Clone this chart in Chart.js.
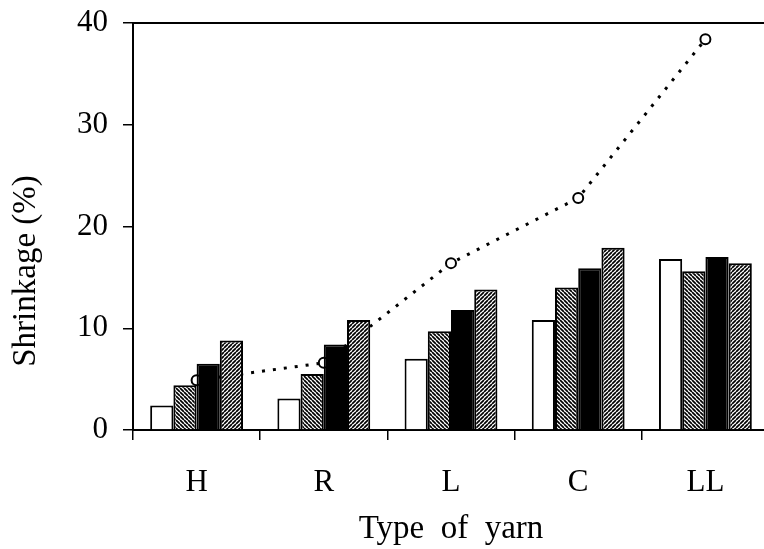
<!DOCTYPE html>
<html>
<head>
<meta charset="utf-8">
<script src="https://cdn.jsdelivr.net/npm/chart.js@4.4.1/dist/chart.umd.min.js"></script>
<style>
  html, body { margin: 0; padding: 0; background: #fff; overflow: hidden; }
  #wrap { width: 776px; height: 549px; }
</style>
</head>
<body>
<div id="wrap"><canvas id="barChart"></canvas></div>
<script>
// yarn types on the x axis
var categorias = ['H', 'R', 'L', 'C', 'LL'];

// bar series (shrinkage %)
var serieBlanca = [2.4, 3.1, 7.0, 10.8, 16.8];
var serieRayaA  = [4.4, 5.5, 9.7, 14.0, 15.6];
var serieNegra  = [6.5, 8.4, 11.8, 15.9, 17.0];
var serieRayaB  = [8.8, 10.8, 13.8, 17.9, 16.4];

// dotted line with open circles
var serieLinea  = [4.9, 6.6, 16.4, 22.8, 38.4];

var yTicks = [0, 10, 20, 30, 40];
var yTitulo = 'Shrinkage (%)';
var xTitulo = 'Type  of  yarn';

var fuente = "'Liberation Serif', 'Times New Roman', serif";

function rayado(dir){
    var s = 4;
    var c = document.createElement('canvas');
    c.width = s; c.height = s;
    var ctx = c.getContext('2d');
    ctx.fillStyle = '#fff';
    ctx.fillRect(0, 0, s, s);
    ctx.strokeStyle = '#000';
    ctx.lineWidth = 1.7;
    ctx.beginPath();
    for (var k = -s; k <= s; k += s) {
        if (dir == '\\') {
            ctx.moveTo(k, 0); ctx.lineTo(k + s, s);
        } else {
            ctx.moveTo(k, s); ctx.lineTo(k + s, 0);
        }
    }
    ctx.stroke();
    return ctx.createPattern(c, 'repeat');
}

// y title sits lower than the axis centre in the original, so draw it by hand
var tituloY = {
    id: 'tituloY',
    afterDraw: function(chart){
        var ctx = chart.ctx;
        ctx.save();
        ctx.translate(26, 271);
        ctx.rotate(-Math.PI / 2);
        ctx.font = '33px ' + fuente;
        ctx.fillStyle = '#000';
        ctx.textAlign = 'center';
        ctx.textBaseline = 'middle';
        ctx.fillText(yTitulo, 0, 0);
        ctx.restore();
    }
};

function grafica(){
    var barra = function(label, datos, relleno){
        return {
            type: 'bar',
            label: label,
            data: datos,
            backgroundColor: relleno,
            borderColor: '#000',
            borderWidth: 2,
            order: 1
        };
    };

    var datos = {
        labels: categorias,
        datasets: [
            barra('Serie 1', serieBlanca, '#fff'),
            barra('Serie 2', serieRayaA, rayado('\\')),
            barra('Serie 3', serieNegra, '#000'),
            barra('Serie 4', serieRayaB, rayado('/')),
            {
                type: 'line',
                label: 'Linea',
                data: serieLinea,
                borderColor: '#000',
                borderWidth: 3,
                borderDash: [3, 8],
                pointRadius: 5,
                pointBorderWidth: 2,
                pointBackgroundColor: '#fff',
                pointBorderColor: '#000',
                fill: false,
                order: 2
            }
        ]
    };

    var opciones = {
        responsive: true,
        maintainAspectRatio: false,
        animation: false,
        layout: { padding: { top: 23, right: 3, left: 0, bottom: 0 } },
        plugins: { legend: { display: false }, tooltip: { enabled: false } },
        datasets: { bar: { categoryPercentage: 0.73, barPercentage: 1 } },
        scales: {
            x: {
                type: 'category',
                position: 'bottom',
                afterFit: function(s){ s.height = 119; s.paddingLeft = 0; s.paddingRight = 0; },
                grid: { drawOnChartArea: false, tickLength: 10, color: '#000', lineWidth: 1.5 },
                border: { color: '#000', width: 2 },
                ticks: { color: '#000', padding: 24, font: { family: fuente, size: 31 } },
                title: { display: true, text: xTitulo, color: '#000', padding: { top: 0, bottom: 0 },
                         font: { family: fuente, size: 33 } }
            },
            arriba: {
                type: 'category',
                position: 'top',
                afterFit: function(s){ s.height = 0; },
                grid: { display: false, drawTicks: false },
                ticks: { display: false },
                border: { display: true, color: '#000', width: 2 }
            },
            y: {
                min: 0,
                max: 40,
                afterFit: function(s){ s.width = 133; s.paddingTop = 0; s.paddingBottom = 0; },
                afterBuildTicks: function(s){ s.ticks = yTicks.map(function(v){ return { value: v }; }); },
                grid: { drawOnChartArea: false, tickLength: 10, color: '#000', lineWidth: 1.5 },
                border: { color: '#000', width: 2 },
                ticks: { color: '#000', padding: 15, font: { family: fuente, size: 31 } },
                title: { display: false }
            }
        }
    };

    var ctx = document.getElementById('barChart').getContext('2d');
    new Chart(ctx, { type: 'bar', data: datos, options: opciones, plugins: [tituloY] });
}

grafica();
</script>
</body>
</html>
